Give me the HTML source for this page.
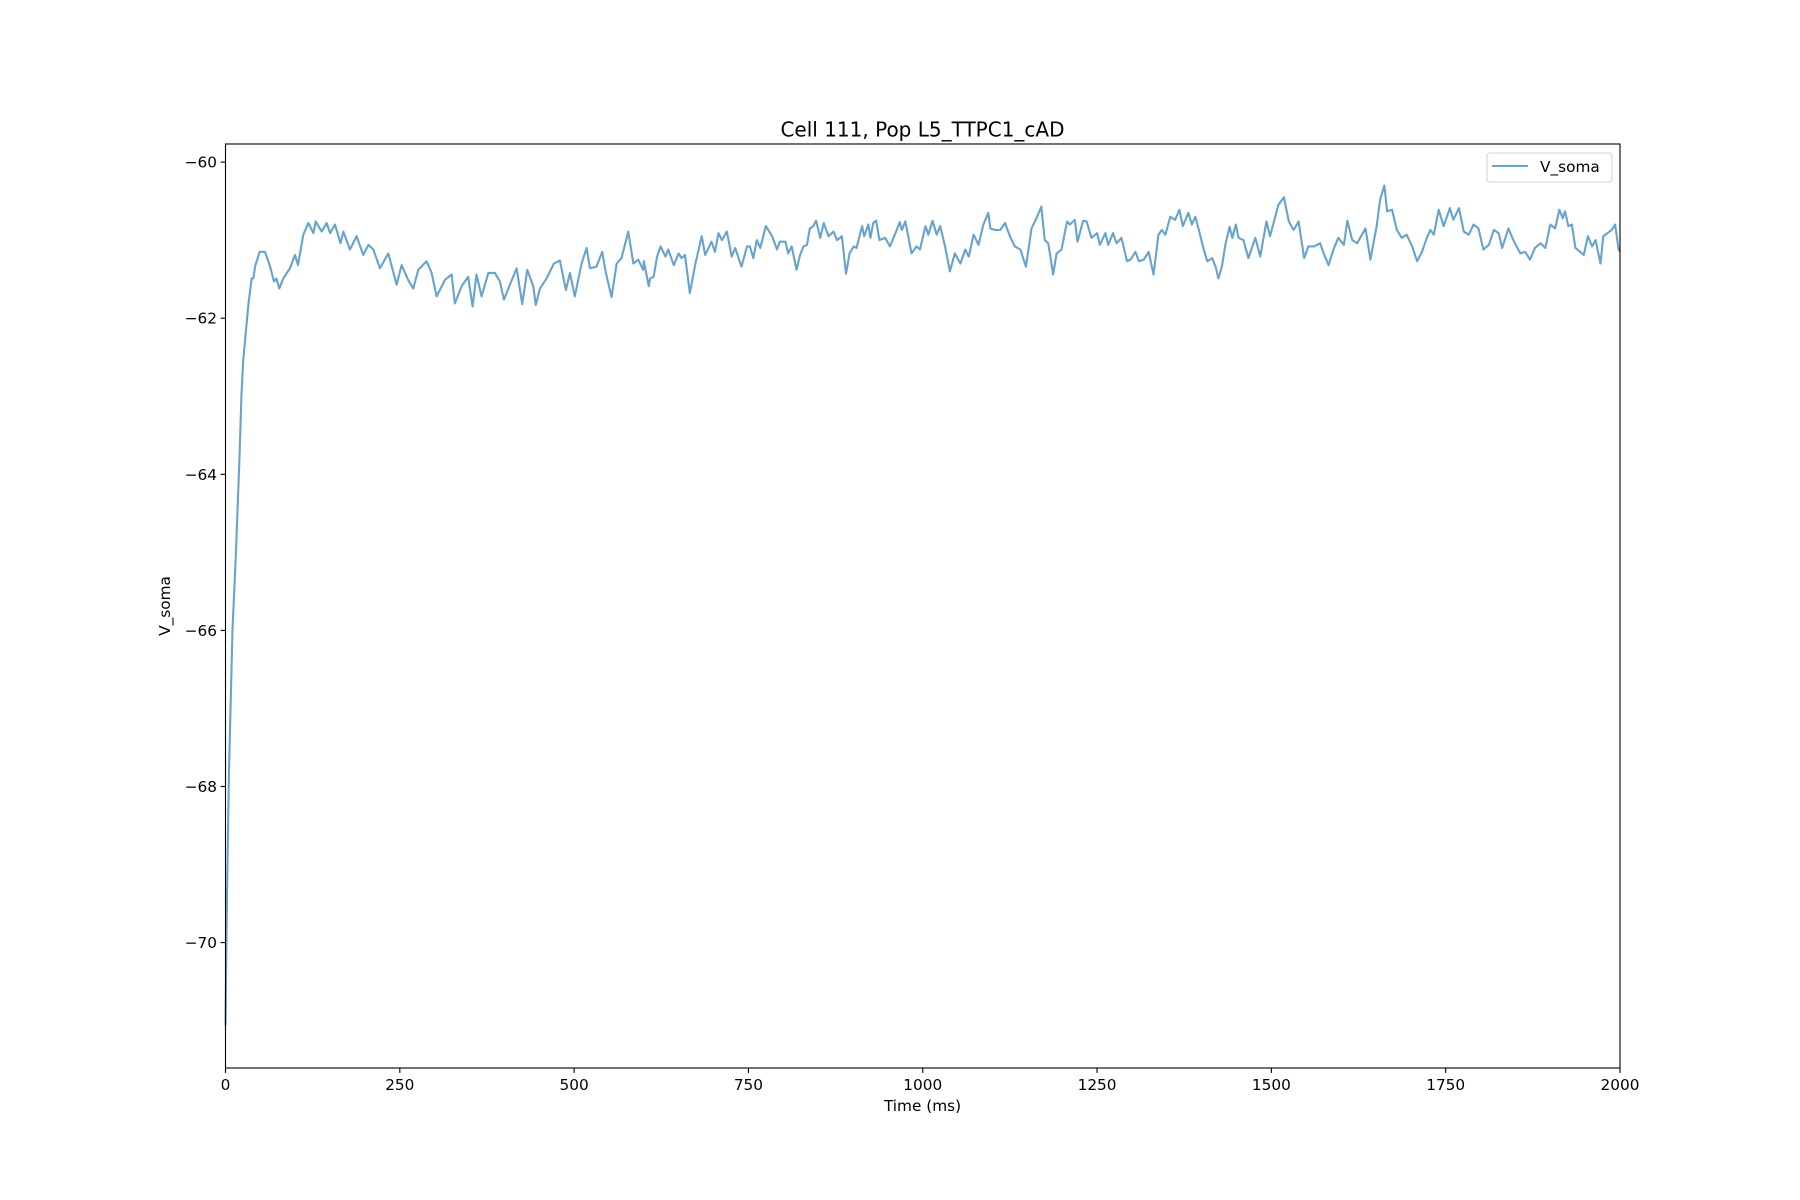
<!DOCTYPE html>
<html><head><meta charset="utf-8"><style>
html,body{margin:0;padding:0;background:#fff;}
svg{display:block;font-family:"DejaVu Sans","Liberation Sans",sans-serif;}
</style></head><body>
<svg id="chart" width="1800" height="1200" viewBox="0 0 1800 1200">
<rect width="1800" height="1200" fill="#fff"/>
<text x="922.5" y="136.5" font-size="20" text-anchor="middle">Cell 111, Pop L5_TTPC1_cAD</text>
<g id="xticks"></g>
<g id="yticks"></g>
<path id="trace" fill="none" stroke="#1f77b4" stroke-opacity="0.68" stroke-width="2.1" stroke-linejoin="round"/>
<rect x="225.5" y="144" width="1394.5" height="924" fill="none" stroke="#000" stroke-width="1.1"/>
<text x="922.5" y="1111" font-size="15.3" text-anchor="middle">Time (ms)</text>
<text x="0" y="0" font-size="15.3" text-anchor="middle" transform="translate(170,606) rotate(-90)">V_soma</text>
<g>
<rect x="1487" y="153" width="125" height="29" rx="3" fill="#fff" fill-opacity="0.8" stroke="#d0d0d0"/>
<line x1="1492" y1="166" x2="1528" y2="166" stroke="#1f77b4" stroke-opacity="0.68" stroke-width="2.1"/>
<text x="1540" y="172" font-size="15.3">V_soma</text>
</g>
</svg>
<script>
const times=[0,2,5,10,15,20,23,25.5,33,37.5,40,42.3,49,56.6,59,64,69.5,73,77,83,88,92.5,99.6,104,111.6,118.8,126,129.3,138,145,150,157,165,169,178.5,188,197.6,205,212,221.5,233.5,245.4,252.6,262,269.3,276.5,288.4,295.6,302.8,314.7,324.3,329,338.6,348,354.4,360,367.3,377,386.4,393.6,399.3,408,417.5,425.6,432.8,441.4,445,451,460.5,471,479.6,488.2,494,501,510.7,517.9,522.7,532,540.3,545.6,553.7,561,568,577.6,585,592,599,
600,607,609,614,619,624,631,635,643,650,654,659,666,674,683,688,697,702,707,712,719,726,731,740,748,752,757,762,767,775,784,791,795,803,807,812,819,824,829,834,838,843,847,853,858,865,872,877,884,890,895,901,905,913,916,922,925,929,933,938,946,953,960,967,970,975,984,991,996,1004,1008,1014,1020,1025,1032,1039,1046,1054,1061,1066,1073,1080,1087,1094,1097,1104,1111,1118,1125,1132,1140,1148,1156,1164,1170,1175,1180,1187,1192,1199,1207,1211,1218,1222,1230,1235,1242,1250,1254,1262,1266,1273,1278,1285,1293,
1298,1305,1310,1317,1324,1331,1338,1343,1348,1355,1362,1368,1373,1381,1386,1391,1396,1403,1408,1415,1420,1424,1429,1434,1440,1444,1449,1453,1460,1467,1477,1484,1493,1498,1505,1510,1518,1525,1532,1539,1547,1553,1561,1570,1575,1582,1589,1596,1604,1609,1616,1623,1635,1642,1651,1656,1662,1666,1673,1680,1687,1694,1702,1709,1716,1723,1728,1733,1740,1747,1756,1761,1769,1776,1783,1790,1797,1804,1812,1819,1826,1831,1840,1847,1857,1864,1871,1878,1886,1893,1900,1907,1913,1918,1921,1926,1931,1936,1943,1948,1954,1960,1965,1972,1976,1988,1993,1998,2000];
const vsoma=[-71.06,-69.5,-67.8,-66.0,-65.0,-63.8,-62.96,-62.53,-61.81,-61.49,-61.49,-61.34,-61.15,-61.15,-61.21,-61.34,-61.53,-61.49,-61.62,-61.49,-61.42,-61.36,-61.19,-61.32,-60.93,-60.78,-60.91,-60.76,-60.89,-60.78,-60.91,-60.80,-61.04,-60.89,-61.12,-60.95,-61.19,-61.06,-61.12,-61.36,-61.17,-61.57,-61.32,-61.51,-61.62,-61.38,-61.27,-61.42,-61.72,-61.51,-61.44,-61.81,-61.59,-61.47,-61.85,-61.44,-61.72,-61.42,-61.42,-61.53,-61.76,-61.57,-61.36,-61.82,-61.38,-61.59,-61.83,-61.62,-61.49,-61.30,-61.26,-61.64,-61.42,-61.72,-61.30,-61.10,-61.36,-61.34,-61.15,-61.42,-61.73,-61.30,-61.23,-60.89,-61.30,-61.25,-61.38,
-61.27,-61.59,-61.49,-61.47,-61.21,-61.08,-61.21,-61.12,-61.32,-61.17,-61.23,-61.19,-61.68,-61.30,-60.95,-61.19,-61.02,-61.15,-60.91,-61.00,-60.89,-61.21,-61.10,-61.34,-61.08,-61.08,-61.23,-61.00,-61.10,-60.82,-60.95,-61.12,-61.02,-61.02,-61.17,-61.08,-61.38,-61.19,-61.08,-61.06,-60.85,-60.82,-60.75,-60.97,-60.78,-60.95,-60.89,-61.00,-60.95,-61.43,-61.17,-61.08,-61.10,-60.82,-60.95,-60.80,-60.97,-60.78,-60.75,-61.00,-60.97,-61.08,-60.93,-60.77,-60.87,-60.76,-61.17,-61.08,-61.12,-60.82,-60.93,-60.75,-60.93,-60.82,-61.08,-61.40,-61.17,-61.30,-61.12,-61.21,-60.93,-61.06,-60.80,-60.65,-60.85,-60.87,-60.87,-60.78,-60.95,-61.08,-61.12,-61.34,-60.85,-60.70,-60.57,-61.00,-61.04,-61.44,-61.17,-61.12,-60.76,-60.80,-60.74,-61.02,-60.75,-60.76,-60.97,-60.91,-61.06,-60.91,-61.06,-60.91,-61.04,-60.97,-61.27,
-61.25,-61.15,-61.27,-61.25,-61.15,-61.44,-60.93,-60.87,-60.93,-60.70,-60.74,-60.61,-60.82,-60.65,-60.80,-60.70,-60.87,-61.12,-61.27,-61.23,-61.34,-61.49,-61.34,-61.06,-60.83,-60.97,-60.80,-60.97,-61.00,-61.23,-60.97,-61.21,-60.76,-60.95,-60.72,-60.55,-60.45,-60.76,-60.87,-60.76,-61.23,-61.08,-61.08,-61.04,-61.17,-61.32,-61.12,-60.97,-61.06,-60.75,-61.00,-61.04,-60.85,-61.25,-60.82,-60.48,-60.30,-60.63,-60.61,-60.87,-60.97,-60.93,-61.08,-61.27,-61.15,-60.97,-60.87,-60.93,-60.61,-60.82,-60.59,-60.74,-60.59,-60.89,-60.93,-60.80,-60.85,-61.12,-61.06,-60.87,-60.91,-61.10,-60.85,-61.00,-61.17,-61.15,-61.25,-61.10,-61.04,-61.10,-60.80,-60.85,-60.61,-60.72,-60.63,-60.82,-60.80,-61.10,-61.15,-61.19,-60.95,-61.08,-61.00,-61.30,-60.95,-60.87,-60.80,-61.12,-61.15];
const xTickValues=[0,250,500,750,1000,1250,1500,1750,2000];
const yTickValues=[-60,-62,-64,-66,-68,-70];
const L=225.5,R=1620,T=144,B=1068;
const X0=0,X1=2000,Y0=-71.607,Y1=-59.768;
function sx(t){return L+(t-X0)/(X1-X0)*(R-L);}
function sy(v){return B-(v-Y0)/(Y1-Y0)*(B-T);}
const NS='http://www.w3.org/2000/svg';
let d='';
for(let i=0;i<times.length;i++){d+=(i?'L':'M')+sx(times[i]).toFixed(2)+','+sy(vsoma[i]).toFixed(2);}
document.getElementById('trace').setAttribute('d',d);
const xg=document.getElementById('xticks');
xTickValues.forEach(v=>{
  const x=sx(v);
  const ln=document.createElementNS(NS,'line');
  ln.setAttribute('x1',x);ln.setAttribute('x2',x);ln.setAttribute('y1',B);ln.setAttribute('y2',B+4.9);
  ln.setAttribute('stroke','#000');ln.setAttribute('stroke-width','1.1');
  
  
  xg.appendChild(ln);
  const tx=document.createElementNS(NS,'text');
  tx.setAttribute('x',x);tx.setAttribute('y',1090);tx.setAttribute('font-size','15.3');tx.setAttribute('text-anchor','middle');
  tx.textContent=String(v);
  
  
  xg.appendChild(tx);
});
const yg=document.getElementById('yticks');
yTickValues.forEach(v=>{
  const y=sy(v);
  const ln=document.createElementNS(NS,'line');
  ln.setAttribute('x1',L-4.9);ln.setAttribute('x2',L);ln.setAttribute('y1',y);ln.setAttribute('y2',y);
  ln.setAttribute('stroke','#000');ln.setAttribute('stroke-width','1.1');
  
  
  yg.appendChild(ln);
  const tx=document.createElementNS(NS,'text');
  tx.setAttribute('x',L-8.5);tx.setAttribute('y',y+5.5);tx.setAttribute('font-size','15.3');tx.setAttribute('text-anchor','end');
  tx.textContent=(v<0?'\u2212':'')+Math.abs(v);
  
  
  yg.appendChild(tx);
});
</script>
</body></html>
